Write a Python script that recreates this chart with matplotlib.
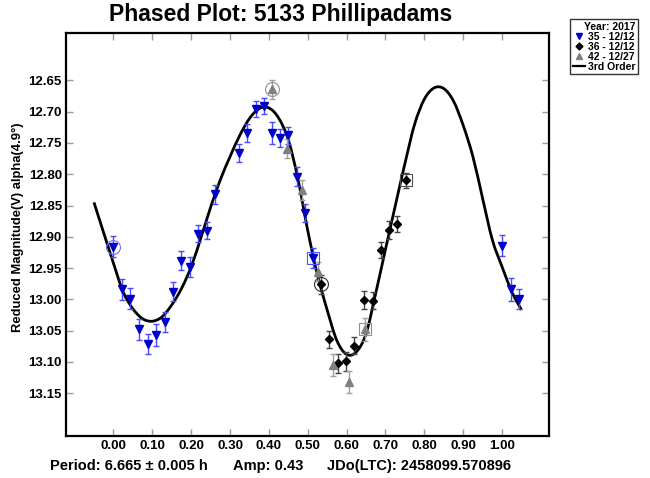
import numpy as np
import matplotlib
matplotlib.use('Agg')
import matplotlib.pyplot as plt
from matplotlib.lines import Line2D
from matplotlib.path import Path
from matplotlib.patches import PathPatch

plt.rcParams['font.family'] = ['Liberation Sans', 'DejaVu Sans']
plt.rcParams['font.weight'] = 'bold'

# session 35 - 12/12 (blue, triangle down)
s35_phase = [0.000, 0.023, 0.044, 0.066, 0.089, 0.109, 0.132, 0.154, 0.175, 0.197,
             0.218, 0.240, 0.261, 0.322, 0.344, 0.366, 0.387, 0.407, 0.429, 0.450,
             0.472, 0.493, 0.513, 0.999, 1.022, 1.044]
s35_mag = [12.916, 12.984, 12.999, 13.048, 13.071, 13.057, 13.036, 12.988, 12.938, 12.948,
           12.895, 12.890, 12.832, 12.766, 12.734, 12.696, 12.691, 12.734, 12.742, 12.738,
           12.804, 12.862, 12.934, 12.914, 12.984, 13.000]
s35_err = [0.017, 0.017, 0.017, 0.017, 0.016, 0.017, 0.016, 0.015, 0.015, 0.016,
           0.014, 0.014, 0.015, 0.015, 0.015, 0.013, 0.013, 0.017, 0.015, 0.014,
           0.015, 0.015, 0.016, 0.017, 0.018, 0.016]

# session 36 - 12/12 (black, diamond)
s36_phase = [0.533, 0.555, 0.578, 0.599, 0.620, 0.645, 0.667, 0.689, 0.709, 0.730, 0.753]
s36_mag = [12.976, 13.064, 13.102, 13.099, 13.074, 13.001, 13.002, 12.921, 12.889, 12.879, 12.810]
s36_err = [0.015, 0.014, 0.015, 0.015, 0.013, 0.014, 0.014, 0.013, 0.014, 0.013, 0.012]

# session 42 - 12/27 (gray, triangle up)
s42_phase = [0.407, 0.446, 0.486, 0.526, 0.566, 0.606, 0.647]
s42_mag = [12.664, 12.759, 12.825, 12.956, 13.105, 13.132, 13.048]
s42_err = [0.015, 0.015, 0.016, 0.015, 0.018, 0.018, 0.018]

# 3rd order fit
fit_phase = [-0.050, 0.000, 0.025, 0.050, 0.075, 0.100, 0.125, 0.150, 0.175, 0.200,
             0.225, 0.250, 0.275, 0.300, 0.325, 0.350, 0.375, 0.400, 0.425, 0.450,
             0.475, 0.500, 0.525, 0.550, 0.575, 0.600, 0.625, 0.650, 0.675, 0.700,
             0.725, 0.750, 0.775, 0.800, 0.825, 0.850, 0.875, 0.900, 0.925, 0.950,
             0.975, 1.000, 1.025, 1.050]
fit_mag = [12.845, 12.942, 12.988, 13.015, 13.031, 13.035, 13.028, 13.009, 12.983, 12.948,
           12.902, 12.853, 12.809, 12.772, 12.738, 12.711, 12.695, 12.694, 12.710, 12.745,
           12.808, 12.890, 12.961, 13.017, 13.066, 13.088, 13.084, 13.055, 12.990, 12.920,
           12.851, 12.783, 12.720, 12.680, 12.662, 12.663, 12.683, 12.722, 12.772, 12.839,
           12.905, 12.948, 12.988, 13.017]

# first / last points of each session
circle_pts = [(0.000, 12.916, '#6f6fff'), (0.407, 12.664, '#909090'), (0.533, 12.976, '#303030')]
square_pts = [(0.513, 12.934, '#5050ff'), (0.647, 13.048, '#909090'), (0.753, 12.810, '#505050')]

xticks = [0.0, 0.1, 0.2, 0.3, 0.4, 0.5, 0.6, 0.7, 0.8, 0.9, 1.0]
yticks = [12.65, 12.70, 12.75, 12.80, 12.85, 12.90, 12.95, 13.00, 13.05, 13.10, 13.15]


def smooth_path(xs, ys):
    # Catmull-Rom through the read points, drawn as cubic bezier segments
    xs = np.asarray(xs)
    ys = np.asarray(ys)
    verts = [(xs[0], ys[0])]
    codes = [Path.MOVETO]
    n = len(xs)
    for i in range(n - 1):
        p0 = np.array([xs[max(i - 1, 0)], ys[max(i - 1, 0)]])
        p1 = np.array([xs[i], ys[i]])
        p2 = np.array([xs[i + 1], ys[i + 1]])
        p3 = np.array([xs[min(i + 2, n - 1)], ys[min(i + 2, n - 1)]])
        c1 = p1 + (p2 - p0) / 6.0
        c2 = p2 - (p3 - p1) / 6.0
        verts += [tuple(c1), tuple(c2), tuple(p2)]
        codes += [Path.CURVE4] * 3
    return Path(verts, codes)


fig = plt.figure(figsize=(6.5, 4.78), dpi=100)
ax = fig.add_axes([0.1015, 0.0872, 0.7427, 0.844])

ax.add_patch(PathPatch(smooth_path(fit_phase, fit_mag), fc='none', ec='black',
                       lw=2.0, zorder=2))

ax.errorbar(s35_phase, s35_mag, yerr=s35_err, fmt='none', ecolor='#4a4aff',
            elinewidth=1, capsize=2.5, capthick=1, zorder=3)
ax.plot(s35_phase, s35_mag, 'v', color='#0000cc', ms=6, mec='#0000cc', zorder=4)

ax.errorbar(s36_phase, s36_mag, yerr=s36_err, fmt='none', ecolor='#444444',
            elinewidth=1, capsize=2.5, capthick=1, zorder=3)
ax.plot(s36_phase, s36_mag, 'D', color='black', ms=4, zorder=4)

ax.errorbar(s42_phase, s42_mag, yerr=s42_err, fmt='none', ecolor='#a0a0a0',
            elinewidth=1, capsize=2.5, capthick=1, zorder=3)
ax.plot(s42_phase, s42_mag, '^', color='#808080', ms=6, zorder=4)

for x, y, c in circle_pts:
    ax.plot(x, y, 'o', mfc='none', mec=c, ms=10, mew=0.8, zorder=5)
for x, y, c in square_pts:
    ax.plot(x, y, 's', mfc='none', mec=c, ms=9, mew=0.8, zorder=5)

ax.set_xlim(-0.122, 1.12)
ax.set_ylim(13.219, 12.574)
ax.set_xticks(xticks)
ax.set_xticklabels(['%.2f' % v for v in xticks])
ax.set_yticks(yticks)
ax.set_yticklabels(['%.2f' % v for v in yticks])
ax.tick_params(direction='in', length=5, width=1, color='#999999',
               top=True, right=True, labelsize=9.5, pad=3)
for lab in ax.get_xticklabels() + ax.get_yticklabels():
    lab.set_fontweight('bold')
for sp in ax.spines.values():
    sp.set_linewidth(1.6)

fig.text(0.432, 0.970, 'Phased Plot: 5133 Phillipadams', ha='center', va='center',
         fontsize=16.5, fontweight='bold')
fig.text(0.027, 0.525, 'Reduced Magnitude(V) alpha(4.9°)', rotation=90,
         ha='center', va='center', fontsize=9.4, fontweight='bold')
fig.text(0.077, 0.025, 'Period: 6.665 ± 0.005 h', ha='left', va='center',
         fontsize=10.5, fontweight='bold')
fig.text(0.358, 0.025, 'Amp: 0.43', ha='left', va='center',
         fontsize=10.5, fontweight='bold')
fig.text(0.503, 0.025, 'JDo(LTC): 2458099.570896', ha='left', va='center',
         fontsize=10.5, fontweight='bold')

handles = [Line2D([], [], ls='none', marker='v', color='#0000cc', ms=5),
           Line2D([], [], ls='none', marker='D', color='black', ms=3.5),
           Line2D([], [], ls='none', marker='^', color='#808080', ms=5),
           Line2D([], [], color='black', lw=1.6)]
labels = ['35 - 12/12', '36 - 12/12', '42 - 12/27', '3rd Order']
leg = fig.legend(handles, labels, title='Year: 2017', loc='upper left',
                 bbox_to_anchor=(570 / 650, 1 - 19 / 478), fontsize=7.5,
                 title_fontsize=7.5, frameon=True, fancybox=False, shadow=False,
                 borderpad=0.25, labelspacing=0.0, handlelength=1.2,
                 handletextpad=0.3, borderaxespad=0)
leg.get_frame().set_edgecolor('black')
leg.get_frame().set_linewidth(1.0)
leg.get_title().set_fontweight('bold')
leg._legend_box.align = 'right'
for t in leg.get_texts():
    t.set_fontweight('bold')

fig.savefig('out.png', dpi=100)
